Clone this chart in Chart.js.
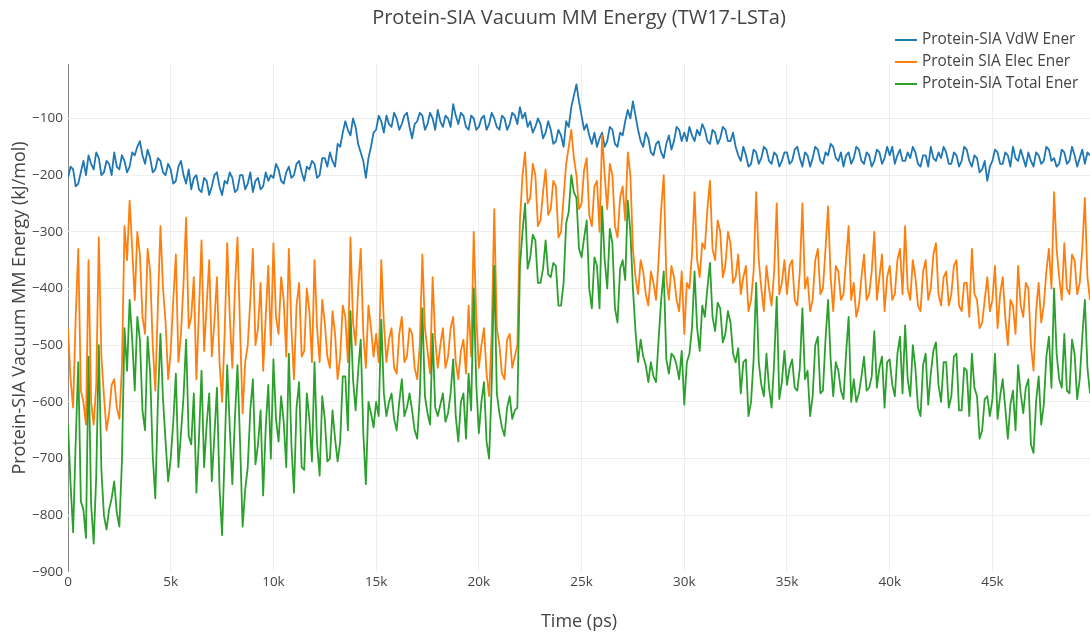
<!DOCTYPE html>
<html>
<head>
<meta charset="utf-8">
<title>Protein-SIA Vacuum MM Energy (TW17-LSTa)</title>
<script src="https://cdn.jsdelivr.net/npm/chart.js@4/dist/chart.umd.min.js"></script>
<style>
  html, body { margin: 0; padding: 0; background: #fff; }
  #wrap { position: relative; width: 1090px; height: 639px; }
  #legend { position: absolute; left: 895px; top: 28px; font: 15.4px "Open Sans", sans-serif; color: #444; }
  #legend .item { height: 22px; line-height: 22px; white-space: nowrap; }
  #legend .sw { display: inline-block; width: 22px; height: 2px; vertical-align: middle; margin-right: 5px; }
</style>
</head>
<body>
<div id="wrap">
  <canvas id="chart" width="1090" height="639"></canvas>
  <div id="legend"></div>
</div>
<script>
// time step of the sampled points (ps)
var timeStep = 125;

var seriesNames = ['Protein-SIA VdW Ener', 'Protein SIA Elec Ener', 'Protein-SIA Total Ener'];
var seriesColors = ['#1f77b4', '#ff7f0e', '#2ca02c'];

// values, one row = 5k ps
var vdwEner = [
  -205,-185,-190,-220,-215,-195,-175,-200,-165,-180,-190,-160,-170,-200,-195,-175,-180,-200,-160,-185,-190,-165,-175,-195,-185,-160,-165,-150,-140,-165,-180,-155,-170,-195,-190,-170,-175,-195,-200,-180,
  -190,-215,-210,-185,-175,-200,-215,-190,-225,-205,-200,-225,-230,-205,-210,-235,-220,-200,-195,-220,-235,-210,-215,-195,-205,-230,-225,-200,-200,-225,-215,-195,-230,-210,-205,-225,-220,-195,-210,-200,
  -205,-180,-190,-210,-215,-195,-185,-205,-200,-180,-175,-195,-210,-185,-190,-175,-180,-205,-200,-170,-170,-185,-160,-175,-185,-145,-150,-125,-105,-120,-130,-100,-115,-145,-160,-175,-205,-170,-150,-125,
  -120,-95,-105,-125,-95,-110,-115,-90,-100,-120,-110,-95,-90,-115,-135,-110,-105,-90,-95,-120,-110,-90,-100,-120,-85,-105,-115,-95,-100,-115,-75,-95,-110,-90,-95,-115,-120,-95,-100,-120,
  -115,-100,-95,-120,-110,-90,-100,-115,-120,-95,-100,-120,-110,-90,-95,-110,-80,-100,-90,-115,-105,-125,-115,-100,-110,-135,-125,-105,-120,-145,-140,-120,-130,-150,-105,-115,-80,-60,-40,-70,
  -95,-120,-110,-130,-145,-125,-150,-135,-125,-150,-140,-115,-120,-145,-150,-125,-130,-105,-85,-100,-70,-95,-120,-140,-150,-125,-135,-160,-165,-145,-140,-160,-170,-145,-130,-155,-140,-115,-120,-140,
  -125,-140,-115,-130,-140,-120,-130,-110,-120,-140,-145,-120,-125,-145,-135,-115,-120,-140,-140,-125,-150,-165,-175,-150,-165,-185,-180,-155,-160,-180,-170,-150,-155,-175,-180,-160,-165,-185,-175,-160,
  -160,-180,-175,-155,-150,-170,-185,-160,-165,-185,-170,-150,-155,-175,-180,-160,-165,-145,-150,-170,-175,-160,-185,-165,-160,-180,-170,-150,-155,-175,-180,-160,-165,-185,-175,-155,-160,-180,-170,-150,
  -165,-150,-180,-165,-155,-175,-175,-160,-170,-150,-160,-180,-185,-165,-165,-185,-150,-170,-175,-160,-170,-150,-160,-180,-180,-160,-165,-185,-175,-150,-155,-175,-185,-165,-170,-195,-190,-175,-210,-185,
  -175,-155,-160,-180,-180,-160,-165,-185,-150,-170,-175,-155,-170,-185,-160,-175,-185,-160,-165,-180,-175,-150,-155,-175,-170,-185,-180,-155,-160,-180,-175,-150,-165,-185,-170,-155,-180,-160,-165,-180
];

var elecEner = [
  -470,-560,-610,-450,-330,-580,-600,-640,-350,-600,-640,-570,-310,-520,-590,-650,-620,-570,-560,-610,-630,-540,-290,-350,-245,-330,-420,-300,-340,-450,-480,-330,-370,-500,-580,-430,-290,-400,-460,-560,
  -510,-420,-340,-530,-480,-390,-275,-470,-450,-380,-560,-440,-315,-510,-430,-350,-520,-460,-380,-530,-600,-480,-320,-450,-540,-400,-310,-470,-620,-530,-500,-420,-330,-500,-470,-390,-545,-450,-360,-500,
  -320,-450,-480,-380,-420,-520,-330,-470,-560,-430,-390,-520,-510,-400,-440,-530,-350,-470,-530,-420,-460,-520,-540,-440,-480,-560,-520,-430,-450,-530,-310,-460,-500,-400,-330,-480,-540,-430,-470,-520,
  -480,-530,-350,-460,-530,-490,-470,-540,-550,-480,-450,-530,-520,-470,-480,-540,-560,-500,-340,-470,-510,-550,-380,-490,-540,-500,-470,-540,-520,-470,-450,-530,-560,-510,-490,-550,-430,-520,-300,-450,
  -540,-500,-470,-550,-590,-480,-260,-470,-500,-550,-560,-490,-480,-540,-520,-500,-280,-200,-160,-250,-240,-180,-200,-290,-280,-230,-190,-270,-260,-210,-220,-310,-300,-240,-180,-150,-120,-170,-200,-260,
  -250,-190,-170,-270,-290,-220,-210,-300,-130,-200,-260,-180,-200,-290,-310,-240,-220,-280,-160,-200,-330,-380,-410,-350,-370,-410,-430,-370,-390,-420,-350,-260,-200,-380,-420,-360,-380,-420,-440,-370,
  -480,-390,-400,-340,-230,-350,-380,-320,-330,-260,-210,-330,-350,-280,-300,-380,-360,-300,-320,-390,-380,-340,-410,-380,-360,-440,-420,-370,-230,-350,-400,-440,-360,-400,-430,-370,-250,-410,-390,-350,
  -410,-360,-350,-420,-430,-370,-250,-400,-380,-440,-420,-350,-330,-410,-400,-330,-255,-380,-440,-360,-370,-420,-410,-350,-290,-420,-390,-450,-430,-380,-340,-420,-410,-370,-300,-420,-380,-340,-440,-380,
  -360,-420,-410,-350,-330,-410,-290,-400,-420,-350,-380,-430,-440,-370,-350,-420,-400,-340,-320,-410,-430,-380,-370,-430,-410,-360,-350,-430,-440,-390,-390,-450,-330,-410,-420,-470,-460,-420,-380,-440,
  -420,-360,-470,-410,-380,-450,-500,-420,-430,-480,-360,-430,-450,-390,-400,-500,-545,-440,-390,-460,-430,-370,-330,-400,-230,-330,-380,-420,-320,-400,-410,-340,-350,-410,-390,-330,-240,-380,-420,-350
];

var totalEner = [
  -640,-745,-830,-670,-530,-775,-790,-840,-520,-780,-850,-730,-500,-720,-800,-825,-790,-770,-740,-795,-820,-705,-470,-545,-420,-490,-580,-450,-490,-615,-650,-485,-550,-695,-770,-600,-480,-595,-670,-740,
  -700,-635,-550,-715,-655,-590,-490,-660,-675,-585,-760,-665,-545,-715,-640,-585,-740,-660,-575,-750,-835,-690,-535,-645,-745,-630,-535,-670,-820,-755,-715,-615,-560,-710,-675,-615,-765,-645,-570,-700,
  -525,-630,-670,-590,-635,-715,-515,-675,-760,-610,-565,-715,-720,-585,-630,-705,-530,-675,-730,-590,-630,-705,-700,-615,-665,-705,-670,-555,-555,-650,-440,-560,-615,-545,-490,-655,-745,-600,-620,-645,
  -600,-625,-455,-585,-625,-600,-585,-630,-650,-600,-560,-625,-610,-585,-615,-650,-665,-590,-435,-590,-620,-640,-480,-610,-625,-605,-585,-635,-620,-585,-525,-625,-670,-600,-585,-665,-550,-615,-400,-570,
  -655,-600,-565,-670,-700,-570,-360,-585,-620,-645,-660,-610,-590,-630,-615,-610,-360,-300,-250,-365,-345,-305,-315,-390,-390,-365,-315,-375,-380,-355,-360,-430,-430,-390,-285,-265,-200,-230,-240,-330,
  -345,-310,-280,-400,-435,-345,-360,-435,-255,-350,-400,-295,-320,-435,-460,-365,-350,-385,-245,-300,-400,-475,-530,-490,-520,-535,-565,-530,-555,-565,-490,-420,-370,-525,-550,-515,-520,-535,-560,-510,
  -605,-530,-515,-470,-370,-470,-510,-430,-450,-400,-355,-450,-475,-425,-435,-495,-480,-440,-460,-515,-530,-505,-585,-530,-525,-625,-600,-525,-390,-530,-570,-590,-515,-575,-610,-530,-415,-595,-565,-510,
  -570,-540,-525,-575,-580,-540,-435,-560,-545,-625,-590,-500,-485,-585,-580,-490,-420,-525,-590,-530,-545,-580,-595,-515,-450,-600,-560,-600,-585,-555,-520,-580,-575,-555,-475,-575,-540,-520,-610,-530,
  -525,-570,-590,-515,-485,-585,-465,-560,-590,-500,-540,-610,-625,-535,-515,-605,-550,-510,-495,-570,-600,-530,-530,-610,-590,-520,-515,-615,-615,-540,-545,-625,-515,-575,-590,-665,-650,-595,-590,-625,
  -595,-515,-630,-590,-560,-610,-665,-605,-580,-650,-535,-585,-620,-575,-560,-675,-690,-600,-555,-640,-605,-520,-485,-575,-400,-515,-560,-575,-480,-580,-585,-490,-515,-595,-560,-485,-420,-540,-585,-530
];

var xTicks = [0, 5000, 10000, 15000, 20000, 25000, 30000, 35000, 40000, 45000];
var yTicks = [-900, -800, -700, -600, -500, -400, -300, -200, -100];
var yTitle = 'Protein-SIA Vacuum MM Energy (kJ/mol)';

var FONT = '"Open Sans", "Noto Sans", sans-serif';
var TEXT = '#444';

function toPoints(vals) {
  return vals.map(function(v, i) { return { x: i * timeStep, y: v }; });
}

function fmtX(v) { return v === 0 ? '0' : (v / 1000) + 'k'; }
function fmtY(v) { return v < 0 ? '\u2212' + Math.abs(v) : String(v); }

var allSeries = [vdwEner, elecEner, totalEner];
var datasets = allSeries.map(function(vals, i) {
  return {
    label: seriesNames[i],
    data: toPoints(vals),
    borderColor: seriesColors[i],
    backgroundColor: seriesColors[i],
    borderWidth: 1.8,
    pointRadius: 0,
    tension: 0,
    borderJoinStyle: 'round',
    order: 3 - i   // total drawn on top
  };
});

// legend as plain html
var legendHtml = '';
seriesNames.forEach(function(n, i) {
  legendHtml += '<div class="item"><span class="sw" style="background:' + seriesColors[i] + '"></span>' + n + '</div>';
});
document.getElementById('legend').innerHTML = legendHtml;

// y axis title, centred a bit above the plot middle like the original
var yTitlePlugin = {
  id: 'yTitle',
  afterDraw: function(chart) {
    var ctx = chart.ctx;
    ctx.save();
    ctx.translate(20, 308);
    ctx.rotate(-Math.PI / 2);
    ctx.font = '18px ' + FONT;
    ctx.fillStyle = TEXT;
    ctx.textAlign = 'center';
    ctx.textBaseline = 'middle';
    ctx.fillText(yTitle, 0, 0);
    ctx.restore();
  }
};

new Chart(document.getElementById('chart'), {
  type: 'line',
  data: { datasets: datasets },
  plugins: [yTitlePlugin],
  options: {
    responsive: false,
    animation: false,
    layout: { padding: 0 },
    plugins: {
      legend: { display: false },
      tooltip: { enabled: false },
      title: {
        display: true,
        text: 'Protein-SIA Vacuum MM Energy (TW17-LSTa)',
        color: TEXT,
        font: { family: FONT, size: 20, weight: 'normal' },
        fullSize: false,
        padding: { top: 6, bottom: 34 }
      }
    },
    scales: {
      x: {
        type: 'linear',
        min: 0,
        max: 49750,
        afterBuildTicks: function(s) { s.ticks = xTicks.map(function(v) { return { value: v }; }); },
        afterFit: function(s) { s.height = 67; },
        ticks: {
          color: TEXT,
          font: { family: FONT, size: 13.5 },
          padding: 2,
          maxRotation: 0,
          autoSkip: false,
          callback: function(v) { return fmtX(v); }
        },
        grid: {
          drawTicks: false,
          color: function(c) { return c.tick && c.tick.value === 0 ? '#8a8a8a' : '#eeeeee'; },
          lineWidth: 1
        },
        border: { display: false },
        title: {
          display: true,
          text: 'Time (ps)',
          color: TEXT,
          font: { family: FONT, size: 18 },
          padding: { top: 0, bottom: 6 }
        }
      },
      y: {
        type: 'linear',
        min: -900,
        max: -4,
        afterBuildTicks: function(s) { s.ticks = yTicks.map(function(v) { return { value: v }; }); },
        afterFit: function(s) { s.width = 68; },
        ticks: {
          color: TEXT,
          font: { family: FONT, size: 13.5 },
          padding: 5,
          autoSkip: false,
          callback: function(v) { return fmtY(v); }
        },
        grid: {
          drawTicks: false,
          color: function(c) { return c.tick && c.tick.value === -900 ? 'rgba(0,0,0,0)' : '#eeeeee'; },
          lineWidth: 1
        },
        border: { display: false },
        title: { display: false }
      }
    }
  }
});
</script>
</body>
</html>
